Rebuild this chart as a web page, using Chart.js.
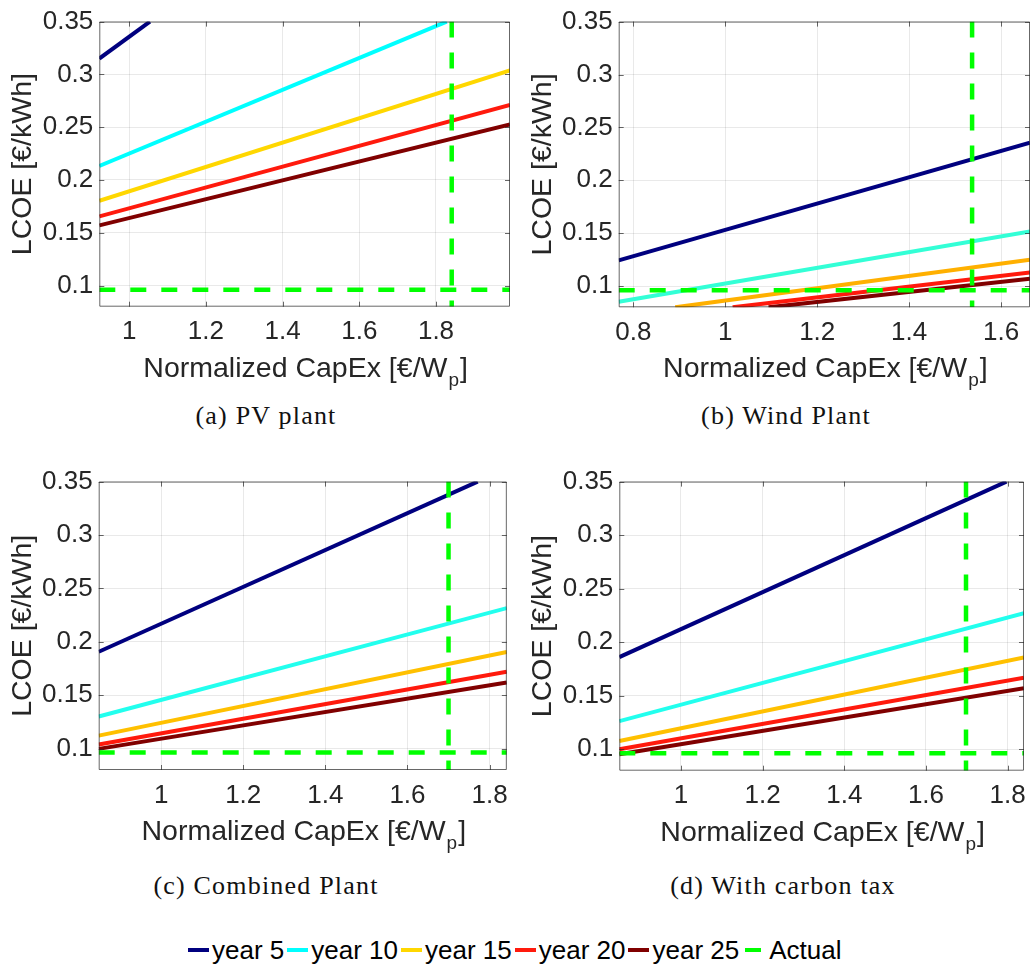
<!DOCTYPE html>
<html><head><meta charset="utf-8">
<script src="https://cdn.jsdelivr.net/npm/chart.js@4.4.1/dist/chart.umd.min.js"></script>
<style>
html,body{margin:0;padding:0;background:#fff;}
body{width:1036px;height:968px;position:relative;overflow:hidden;}
canvas{position:absolute;}
.cap{position:absolute;font-family:"Liberation Serif","Times New Roman",serif;font-size:26px;line-height:30px;color:#111;white-space:nowrap;transform:translateX(-50%);letter-spacing:1.2px;}
#legend{position:absolute;left:188px;top:935px;height:30px;display:flex;align-items:center;font-family:"Liberation Sans",Arial,sans-serif;font-size:26px;line-height:30px;color:#000;white-space:nowrap;}
.sw{display:inline-block;width:21px;height:4px;margin-right:3px;}
.lt{margin-right:3px;}
</style></head><body>
<canvas id="cA" width="518" height="400" style="left:0;top:0"></canvas>
<canvas id="cB" width="516" height="400" style="left:520px;top:0"></canvas>
<canvas id="cC" width="518" height="400" style="left:0;top:460px"></canvas>
<canvas id="cD" width="516" height="400" style="left:520px;top:460px"></canvas>
<div class="cap" id="capA" style="left:266px;top:401px"></div>
<div class="cap" id="capB" style="left:786px;top:401px"></div>
<div class="cap" id="capC" style="left:266px;top:871px"></div>
<div class="cap" id="capD" style="left:783px;top:871px"></div>
<div id="legend"></div>
<script>
// ---------- text ----------
const captions = ['(a) PV plant', '(b) Wind Plant', '(c) Combined Plant', '(d) With carbon tax'];
const seriesNames = ['year 5', 'year 10', 'year 15', 'year 20', 'year 25'];
const actualName = 'Actual';
const yTitle = 'LCOE [€/kWh]';
const xTitleMain = 'Normalized CapEx [€/W';
const xTitleSub = 'p';
const xTitleEnd = ']';

// ---------- axes ----------
const yRange = [0.08, 0.35];
const yTicks = [0.1, 0.15, 0.2, 0.25, 0.3, 0.35];
const xRangeA = [0.922, 1.993];
const xRangeB = [0.768, 1.663];
const xRangeC = [0.848, 1.842];
const xRangeD = [0.849, 1.840];
const xTicksA = [1, 1.2, 1.4, 1.6, 1.8];
const xTicksB = [0.8, 1, 1.2, 1.4, 1.6];
const xTicksC = [1, 1.2, 1.4, 1.6, 1.8];
const xTicksD = [1, 1.2, 1.4, 1.6, 1.8];

// ---------- data: [CapEx, LCOE] ----------
// (a) PV plant
const pvY5  = [[0.922, 0.315], [1.054, 0.35]];
const pvY10 = [[0.922, 0.2133], [1.828, 0.35]];
const pvY15 = [[0.922, 0.1803], [1.993, 0.3037]];
const pvY20 = [[0.922, 0.1655], [1.993, 0.271]];
const pvY25 = [[0.922, 0.157], [1.993, 0.2525]];
// (b) Wind plant
const wiY5  = [[0.768, 0.1244], [1.663, 0.2356]];
const wiY10 = [[0.768, 0.0852], [1.663, 0.1516]];
const wiY15 = [[0.891, 0.08], [1.663, 0.125]];
const wiY20 = [[1.016, 0.08], [1.663, 0.113]];
const wiY25 = [[1.094, 0.08], [1.663, 0.1069]];
// (c) Combined plant
const coY5  = [[0.848, 0.1907], [1.771, 0.35]];
const coY10 = [[0.848, 0.1301], [1.842, 0.2316]];
const coY15 = [[0.848, 0.1122], [1.842, 0.1904]];
const coY20 = [[0.848, 0.1039], [1.842, 0.1719]];
const coY25 = [[0.848, 0.0998], [1.842, 0.162]];
// (d) With carbon tax
const ctY5  = [[0.849, 0.1861], [1.797, 0.35]];
const ctY10 = [[0.849, 0.1263], [1.84, 0.227]];
const ctY15 = [[0.849, 0.1077], [1.84, 0.1858]];
const ctY20 = [[0.849, 0.1], [1.84, 0.1669]];
const ctY25 = [[0.849, 0.0954], [1.84, 0.157]];
// Actual reference values per panel (a..d)
const actualCapex = [1.841, 1.537, 1.70, 1.698];
const actualLcoe = [0.096, 0.096, 0.0963, 0.0963];

// ---------- styles ----------
const colorsA = ['#00007f', '#00ffff', '#ffd700', '#ff1a0d', '#800000'];
const colorsB = ['#00007f', '#33ffd6', '#ffb000', '#ff1a0d', '#800000'];
const colorsC = ['#00007f', '#22ffee', '#ffc000', '#ff1a0d', '#800000'];
const legendColors = ['#00007f', '#00ffff', '#ffd700', '#ff1a0d', '#800000'];
const actualColor = '#00ff00';
const FAM = '"Liberation Sans", Arial, Helvetica, sans-serif';
const AX = '#262626';

const frame = {
  id: 'frame',
  afterDatasetsDraw(chart) {
    const a = chart.chartArea, ctx = chart.ctx;
    const xs = chart.scales.x, ys = chart.scales.y;
    ctx.save();
    ctx.strokeStyle = 'rgba(38,38,38,0.7)';
    ctx.lineWidth = 1;
    ctx.beginPath();
    ctx.rect(a.left + 0.5, a.top + 0.5, a.right - a.left - 1, a.bottom - a.top - 1);
    const tl = 5;
    xs.ticks.forEach(t => {
      const p = Math.round(xs.getPixelForValue(t.value)) + 0.5;
      ctx.moveTo(p, a.bottom); ctx.lineTo(p, a.bottom - tl);
      ctx.moveTo(p, a.top); ctx.lineTo(p, a.top + tl);
    });
    ys.ticks.forEach(t => {
      const p = Math.round(ys.getPixelForValue(t.value)) + 0.5;
      ctx.moveTo(a.left, p); ctx.lineTo(a.left + tl, p);
      ctx.moveTo(a.right, p); ctx.lineTo(a.right - tl, p);
    });
    ctx.stroke();
    ctx.restore();
  },
  afterDraw(chart) {
    const a = chart.chartArea, ctx = chart.ctx;
    ctx.save();
    ctx.fillStyle = AX;
    ctx.textBaseline = 'alphabetic';
    ctx.textAlign = 'left';
    ctx.font = '28.5px ' + FAM;
    const w1 = ctx.measureText(xTitleMain).width;
    const w3 = ctx.measureText(xTitleEnd).width;
    ctx.font = '19px ' + FAM;
    const w2 = ctx.measureText(xTitleSub).width;
    let x = (a.left + a.right) / 2 - (w1 + w2 + w3) / 2;
    const y = a.bottom + 70;
    ctx.font = '28.5px ' + FAM;
    ctx.fillText(xTitleMain, x, y);
    x += w1;
    ctx.font = '19px ' + FAM;
    ctx.fillText(xTitleSub, x + 1, y + 9);
    x += w2 + 2;
    ctx.font = '28.5px ' + FAM;
    ctx.fillText(xTitleEnd, x, y);
    ctx.restore();
  }
};

function makePanel(id, box, plot, xRange, xTicks, series, colors, idx) {
  const [cl, ct, cw, ch] = box;
  const [L, R, T, B] = plot;
  const datasets = [];
  datasets.push({
    label: actualName, order: 0,
    data: [{x: actualCapex[idx], y: yRange[1]}, {x: actualCapex[idx], y: yRange[0]}],
    borderColor: actualColor, borderWidth: 4.5, borderDash: [16, 15], borderCapStyle: 'butt',
    pointRadius: 0, fill: false, tension: 0
  });
  datasets.push({
    label: actualName, order: 0,
    data: [{x: xRange[0], y: actualLcoe[idx]}, {x: xRange[1], y: actualLcoe[idx]}],
    borderColor: actualColor, borderWidth: 4.5, borderDash: [16, 15], borderCapStyle: 'butt',
    pointRadius: 0, fill: false, tension: 0
  });
  series.forEach((s, i) => {
    datasets.push({
      label: seriesNames[i], order: 1,
      data: s.map(p => ({x: p[0], y: p[1]})),
      borderColor: colors[i], borderWidth: 4, borderCapStyle: 'butt',
      pointRadius: 0, fill: false, tension: 0
    });
  });
  return new Chart(document.getElementById(id), {
    type: 'line',
    data: {datasets},
    plugins: [frame],
    options: {
      responsive: false, animation: false, devicePixelRatio: 1,
      layout: {padding: {left: 0, top: T - ct, right: cl + cw - R, bottom: 0}},
      plugins: {legend: {display: false}, tooltip: {enabled: false}},
      scales: {
        x: {
          type: 'linear', min: xRange[0], max: xRange[1],
          afterFit(s) { s.height = ch - (B - ct); },
          afterBuildTicks(s) { s.ticks = xTicks.map(v => ({value: v})); },
          grid: {color: 'rgba(38,38,38,0.1)', drawTicks: false, lineWidth: 1},
          border: {display: false},
          ticks: {font: {family: FAM, size: 26}, color: AX, padding: 10, autoSkip: false, maxRotation: 0,
                  callback: v => String(v)}
        },
        y: {
          type: 'linear', min: yRange[0], max: yRange[1],
          afterFit(s) { s.width = L - cl; },
          afterBuildTicks(s) { s.ticks = yTicks.map(v => ({value: v})); },
          grid: {color: 'rgba(38,38,38,0.1)', drawTicks: false, lineWidth: 1},
          border: {display: false},
          ticks: {font: {family: FAM, size: 26}, color: AX, padding: 6, autoSkip: false,
                  callback: v => String(v)},
          title: {display: true, text: yTitle, color: AX, font: {family: FAM, size: 28.5},
                  padding: {top: 6.2, bottom: 0}}
        }
      }
    }
  });
}

makePanel('cA', [0, 0, 518, 400], [99.3, 510, 15.7, 306.7], xRangeA, xTicksA,
          [pvY5, pvY10, pvY15, pvY20, pvY25], colorsA, 0);
makePanel('cB', [520, 0, 516, 400], [618.7, 1030, 15.7, 307.3], xRangeB, xTicksB,
          [wiY5, wiY10, wiY15, wiY20, wiY25], colorsB, 1);
makePanel('cC', [0, 460, 518, 400], [98.7, 510, 479, 770], xRangeC, xTicksC,
          [coY5, coY10, coY15, coY20, coY25], colorsC, 2);
makePanel('cD', [520, 460, 516, 400], [619.3, 1029.3, 481, 770.7], xRangeD, xTicksD,
          [ctY5, ctY10, ctY15, ctY20, ctY25], colorsC, 3);

['capA', 'capB', 'capC', 'capD'].forEach((id, i) => { document.getElementById(id).textContent = captions[i]; });

const lg = document.getElementById('legend');
seriesNames.concat([actualName]).forEach((name, i) => {
  const sw = document.createElement('span');
  sw.className = 'sw';
  sw.style.background = i < 5 ? legendColors[i] : actualColor;
  if (i === 5) { sw.style.width = '16px'; sw.style.marginLeft = '3px'; sw.style.marginRight = '8px'; }
  const t = document.createElement('span');
  t.className = 'lt';
  t.textContent = name;
  lg.appendChild(sw); lg.appendChild(t);
});
</script>
</body></html>
